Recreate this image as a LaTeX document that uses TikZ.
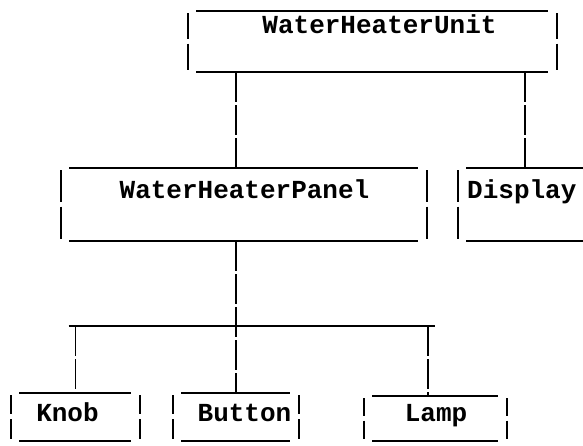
\documentclass[tikz,border=0pt]{standalone}
\usepackage{fontspec}
\newfontfamily\boxfont{Liberation Mono}
\begin{document}
\begin{tikzpicture}[x=1pt,y=-1pt,
  boxnode/.style={rectangle, inner sep=0pt, outer sep=0pt, draw=none},
  boxline/.style={line width=1.8pt, line cap=butt},
  conn/.style={line width=1.8pt, dash pattern=on 30pt off 3pt},
  busline/.style={line width=1.8pt},
  boxtext/.style={anchor=base, inner sep=0pt, font=\boxfont\bfseries\fontsize{26}{26}\selectfont}]
\useasboundingbox (0,0) rectangle (583,445);
\clip (0,0) rectangle (583,445);
\fill[white] (0,0) rectangle (583,445);

% boxes
\node[boxnode, minimum width=369pt, minimum height=61pt] (unit) at (372.5,41.5) {};
\node[boxnode, minimum width=366pt, minimum height=73pt] (panel) at (244,204.5) {};
\node[boxnode, minimum width=182pt, minimum height=73pt] (display) at (549,204.5) {};
\node[boxnode, minimum width=129pt, minimum height=48pt] (knob) at (75.5,417) {};
\node[boxnode, minimum width=126pt, minimum height=48pt] (button) at (236,417) {};
\node[boxnode, minimum width=143pt, minimum height=45pt] (lamp) at (435.5,418.5) {};

\foreach \n in {unit,panel,display,knob,button,lamp}{
  \draw[boxline] ([xshift=8pt]\n.north west) -- ([xshift=-9pt]\n.north east);
  \draw[boxline] ([xshift=8pt]\n.south west) -- ([xshift=-9pt]\n.south east);
  \draw[boxline] ([yshift=-2pt]\n.north west) -- ([yshift=3pt]\n.west);
  \draw[boxline] ([yshift=-2pt]\n.west) -- ([yshift=2pt]\n.south west);
  \draw[boxline] ([yshift=-2pt]\n.north east) -- ([yshift=3pt]\n.east);
  \draw[boxline] ([yshift=-2pt]\n.east) -- ([yshift=2pt]\n.south east);
}

% texts
\node[boxtext] (unittext) at (379.5,33) {WaterHeaterUnit};
\node[boxtext] (paneltext) at (244.5,198) {WaterHeaterPanel};
\node[boxtext, anchor=base west] (displaytext) at (467,198) {Display};
\node[boxtext] (knobtext) at (67.5,421) {Knob};
\node[boxtext] (buttontext) at (244.5,421) {Button};
\node[boxtext] (lamptext) at (436,421) {Lamp};

% connectors
\coordinate (dx) at (525,0);
\coordinate (busy) at (0,326);
\coordinate (lampx) at (428,0);
\draw[conn] (unit.south -| button.north) -- (panel.north -| button.north);
\draw[conn] (unit.south -| dx) -- (display.north -| dx);
\draw[conn] (panel.south -| button.north) -- (button.north);
\draw[busline] ([xshift=-7pt]knob.north |- busy) -- ([xshift=7pt]lampx |- busy);
\draw[conn] (knob.north |- busy) -- (knob.north);
\draw[conn] (lampx |- busy) -- (lampx |- lamp.north);
\end{tikzpicture}
\end{document}
